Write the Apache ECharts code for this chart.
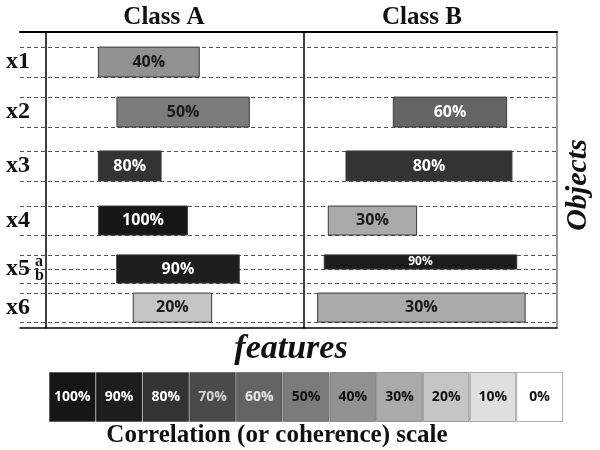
<!DOCTYPE html>
<html><head><meta charset="utf-8">
<script src="https://cdn.jsdelivr.net/npm/echarts@6/dist/echarts.min.js"></script>
<style>html,body{margin:0;padding:0;background:#fff}#c{width:600px;height:450px}</style>
</head><body><div id="c"></div>
<script>
// Row bands on the "Objects" axis (0 = top, 10 = bottom)
const bandNames  = ['x1','x2','x3','x4','x5','x5a','x5b','x6'];
const bandTop    = [0.51, 2.20, 4.02, 5.88, 7.53, 7.53, 8.01, 8.82];
const bandBottom = [1.52, 3.21, 5.03, 6.86, 8.48, 8.01, 8.48, 9.80];
const rowLabels  = ['x1','x2','x3','x4','x5','a','b','x6'];

// Class A feature spans (feature axis 0..100)
const classABand  = ['x1','x2','x3','x4','x5','x6'];
const classAStart = [20.3, 27.5, 20.3, 20.4, 27.4, 33.8];
const classAEnd   = [59.4, 78.8, 44.6, 54.8, 74.9, 64.2];
const classAValue = [40, 50, 80, 100, 90, 20];

// Class B feature spans
const classBBand  = ['x2','x3','x4','x5a','x6'];
const classBStart = [35.3, 16.6, 9.6, 8.0, 5.4];
const classBEnd   = [80.1, 82.2, 44.5, 84.1, 87.4];
const classBValue = [60, 80, 30, 90, 30];

// Correlation (coherence) scale
const scaleLevels = [100, 90, 80, 70, 60, 50, 40, 30, 20, 10, 0];
const scaleColors = ['#161616','#1d1d1d','#333333','#4a4a4a','#646464','#7b7b7b','#919191','#aaaaaa','#c5c5c5','#dfdfdf','#ffffff'];
const scaleTextColors = ['#ffffff','#ffffff','#ffffff','#d4d4d4','#e8e8e8','#111111','#111111','#111111','#111111','#111111','#111111'];

const SERIF = 'Liberation Serif';
const SANS = 'Open Sans';

const bandCenter = bandNames.map((b, i) => (bandTop[i] + bandBottom[i]) / 2);
const dashEdges = Array.from(new Set(bandTop.concat(bandBottom))).sort((a, b) => a - b);

function barSeries(xIdx, yIdx, bands, starts, ends, values) {
  const data = bands.map((b, i) => {
    const k = bandNames.indexOf(b);
    return [starts[i], ends[i], bandTop[k], bandBottom[k], values[i]];
  });
  return {
    type: 'custom', coordinateSystem: 'cartesian2d', xAxisIndex: xIdx, yAxisIndex: yIdx,
    z: 5, clip: false, data,
    encode: { x: [0, 1], y: [2, 3] },
    renderItem: function (params, api) {
      const p0 = api.coord([api.value(0), api.value(2)]);
      const p1 = api.coord([api.value(1), api.value(3)]);
      const v = api.value(4);
      const k = scaleLevels.indexOf(v);
      const h = p1[1] - p0[1];
      return {
        type: 'rect',
        shape: { x: p0[0], y: p0[1], width: p1[0] - p0[0], height: h },
        style: { fill: scaleColors[k], stroke: '#3a3a3a', lineWidth: 1 },
        textContent: { style: { text: v + '%', fill: v >= 60 ? '#ffffff' : '#1a1a1a',
          font: 'bold ' + (h < 20 ? 12 : 16) + 'px "' + SANS + '"' } },
        textConfig: { position: 'inside' }
      };
    }
  };
}

const chart = echarts.init(document.getElementById('c'), null, { renderer: 'canvas' });
chart.setOption({
  animation: false,
  backgroundColor: '#ffffff',
  title: [
    { text: 'Class A', left: 164, top: 5, padding: 0, textAlign: 'center',
      textStyle: { fontFamily: SERIF, fontWeight: 'bold', fontSize: 25, color: '#111' } },
    { text: 'Class B', left: 422, top: 5, padding: 0, textAlign: 'center',
      textStyle: { fontFamily: SERIF, fontWeight: 'bold', fontSize: 25, color: '#111' } },
    { text: 'Correlation (or coherence) scale', left: 277, top: 423, padding: 0, textAlign: 'center',
      textStyle: { fontFamily: SERIF, fontWeight: 'bold', fontSize: 25, color: '#111' } }
  ],
  grid: [
    { left: 20, right: 43, top: 32, bottom: 122, outerBoundsMode: 'none', containLabel: false },
    { left: 46, width: 258, top: 32, bottom: 122, outerBoundsMode: 'none', containLabel: false },
    { left: 304, width: 253, top: 32, bottom: 122, outerBoundsMode: 'none', containLabel: false },
    { left: 49, right: 37, top: 372, bottom: 28, outerBoundsMode: 'none', containLabel: false }
  ],
  xAxis: [
    { gridIndex: 0, type: 'value', min: 0, max: 1, position: 'top',
      axisLine: { show: true, onZero: false, lineStyle: { color: '#000', width: 2 } },
      axisTick: { show: false }, axisLabel: { show: false }, splitLine: { show: false } },
    { gridIndex: 0, type: 'value', min: 0, max: 1, position: 'bottom',
      name: 'features', nameLocation: 'middle', nameGap: 4,
      nameTextStyle: { fontFamily: SERIF, fontWeight: 'bold', fontStyle: 'italic', fontSize: 34, color: '#111', padding: [0, 0, 0, 5] },
      axisLine: { show: true, onZero: false, lineStyle: { color: '#000', width: 1.5 } },
      axisTick: { show: false }, axisLabel: { show: false }, splitLine: { show: false } },
    { gridIndex: 1, type: 'value', min: 0, max: 100, show: false },
    { gridIndex: 2, type: 'value', min: 0, max: 100, show: false },
    { gridIndex: 3, type: 'category', data: scaleLevels.map(v => v + '%'), show: false }
  ],
  yAxis: [
    { gridIndex: 0, type: 'value', min: 0, max: 10, inverse: true, position: 'right',
      name: 'Objects', nameLocation: 'middle', nameGap: 6, nameRotate: 90,
      nameTextStyle: { fontFamily: SERIF, fontWeight: 'bold', fontStyle: 'italic', fontSize: 30, color: '#111', padding: [0, 10, 0, 0] },
      axisLine: { show: true, onZero: false, lineStyle: { color: '#777', width: 1.5 } },
      axisTick: { show: false }, axisLabel: { show: false }, splitLine: { show: false } },
    { gridIndex: 1, type: 'value', min: 0, max: 10, inverse: true, position: 'left',
      axisLine: { show: true, onZero: false, lineStyle: { color: '#000', width: 1.5 } },
      axisTick: { show: false }, splitLine: { show: false },
      axisLabel: {
        customValues: bandCenter, margin: 40, align: 'left',
        formatter: (v) => {
          let best = 0;
          bandCenter.forEach((c, i) => { if (Math.abs(c - v) < Math.abs(bandCenter[best] - v)) best = i; });
          const t = rowLabels[best];
          return t.length === 1 ? '{s|' + t + '}' : '{n|' + t + '}';
        },
        rich: {
          n: { fontFamily: SERIF, fontWeight: 'bold', fontSize: 24, color: '#111' },
          s: { fontFamily: SERIF, fontWeight: 'bold', fontSize: 16, color: '#111', padding: [0, 0, 0, 29] }
        }
      } },
    { gridIndex: 2, type: 'value', min: 0, max: 10, inverse: true, position: 'left',
      axisLine: { show: true, onZero: false, lineStyle: { color: '#000', width: 1.5 } },
      axisTick: { show: false }, axisLabel: { show: false }, splitLine: { show: false } },
    { gridIndex: 3, type: 'value', min: 0, max: 1, show: false }
  ],
  series: [
    { type: 'line', xAxisIndex: 0, yAxisIndex: 0, data: [[0, 0]], showSymbol: false, symbolSize: 0,
      lineStyle: { opacity: 0 }, z: 1, silent: true,
      markLine: { silent: true, symbol: 'none', label: { show: false }, animation: false,
        lineStyle: { type: [4, 3], color: '#555', width: 1 },
        data: dashEdges.map(v => ({ yAxis: v })) } },
    barSeries(2, 1, classABand, classAStart, classAEnd, classAValue),
    barSeries(3, 2, classBBand, classBStart, classBEnd, classBValue),
    { type: 'bar', xAxisIndex: 4, yAxisIndex: 3, barCategoryGap: '0%', barWidth: '100%',
      data: scaleLevels.map((v, i) => ({ value: 1, itemStyle: { color: scaleColors[i] },
        label: { color: scaleTextColors[i] } })),
      itemStyle: { borderColor: 'rgba(0,0,0,0.3)', borderWidth: 1 },
      label: { show: true, position: 'inside', formatter: '{b}', fontFamily: SANS, fontWeight: 'bold', fontSize: 14 } }
  ]
});
</script></body></html>
